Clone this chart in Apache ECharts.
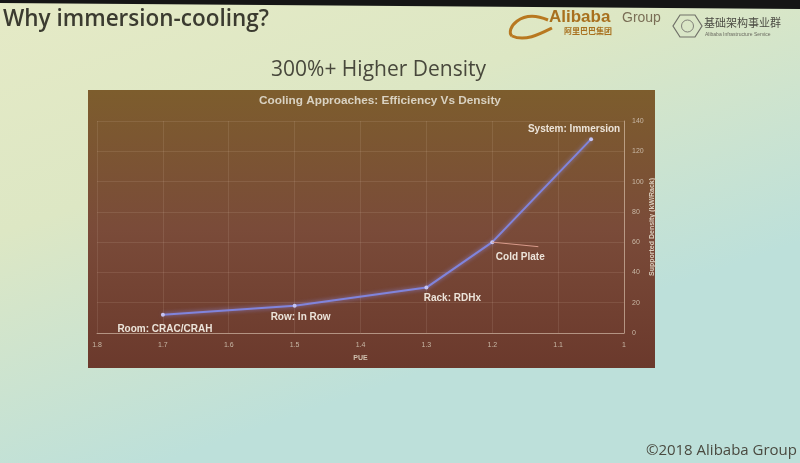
<!DOCTYPE html>
<html>
<head>
<meta charset="utf-8">
<script src="https://cdn.jsdelivr.net/npm/echarts@6/dist/echarts.min.js"></script>
<style>html,body{margin:0;padding:0;}#c{width:800px;height:463px;}</style>
</head>
<body>
<div id="c"></div>
<script>
// ---- data ----
const approaches = ['Room: CRAC/CRAH', 'Row: In Row', 'Rack: RDHx', 'Cold Plate', 'System: Immersion'];
const pueValues = [1.7, 1.5, 1.3, 1.2, 1.05];
const densityValues = [12, 18, 30, 60, 128];
const xTicks = [1.8, 1.7, 1.6, 1.5, 1.4, 1.3, 1.2, 1.1, 1];
const yTicks = [0, 20, 40, 60, 80, 100, 120, 140];

// ---- label placement (styling, not data) ----
const labelPlacement = [
  {position: 'bottom', offset: [2, 2]},
  {position: 'bottom', offset: [6, 0]},
  {position: 'bottom', offset: [26, -1]},
  {position: 'bottom', offset: [28, 3]},
  {position: 'top', offset: [-17, 2]}
];

const chart = echarts.init(document.getElementById('c'), null, {renderer: 'canvas'});

const seriesData = approaches.map((name, i) => ({
  name: name,
  value: [pueValues[i], densityValues[i]],
  label: Object.assign({show: true, formatter: name}, labelPlacement[i])
}));

const option = {
  animation: false,
  backgroundColor: 'transparent',
  graphic: [
    {type: 'rect', z: -10, shape: {x: 0, y: 0, width: 800, height: 463},
      style: {fill: new echarts.graphic.LinearGradient(0, 0, 0.2, 1, [
        {offset: 0, color: '#e5eac6'}, {offset: 0.45, color: '#dde7c4'}, {offset: 1, color: '#bde0da'}])}},
    {type: 'polygon', z: -9, shape: {points: [[0, 0], [800, 0], [800, 9], [0, 3]]}, style: {fill: '#151515'}},
    {type: 'rect', z: -8, shape: {x: 88, y: 90, width: 567, height: 278},
      style: {fill: new echarts.graphic.LinearGradient(0, 0, 0, 1, [
        {offset: 0, color: '#7d5d2d'}, {offset: 0.5, color: '#7a4b39'}, {offset: 1, color: '#6b392c'}])}},
    {type: 'text', left: 3, top: 8, style: {text: 'Why immersion-cooling?', font: '600 22.5px "Open Sans"', fill: '#3b3b30'}},
    {type: 'text', left: 271, top: 60, style: {text: '300%+ Higher Density', font: '21px "Open Sans"', fill: '#48483c'}},
    {type: 'text', left: 259, top: 95, style: {text: 'Cooling Approaches: Efficiency Vs Density', font: 'bold 11.8px "Liberation Sans"', fill: '#d9d2c2'}},
    // Alibaba logo
    {type: 'bezierCurve', shape: {x1: 548, y1: 20, x2: 512, y2: 36, cpx1: 520, cpy1: 8, cpx2: 505, cpy2: 30}, style: {stroke: '#b87820', lineWidth: 3, fill: null}},
    {type: 'bezierCurve', shape: {x1: 512, y1: 36, x2: 552, y2: 28, cpx1: 525, cpy1: 42, cpx2: 540, cpy2: 34}, style: {stroke: '#b87820', lineWidth: 3, fill: null}},
    {type: 'text', left: 549, top: 9, style: {text: 'Alibaba', font: 'bold 17px "Liberation Sans"', fill: '#a8701e'}},
    {type: 'text', left: 622, top: 11, style: {text: 'Group', font: '14px "Liberation Sans"', fill: '#7a6e56'}},
    {type: 'text', left: 564, top: 27, style: {text: '阿里巴巴集团', font: 'bold 8px "Noto Sans CJK SC"', fill: '#a8701e'}},
    {type: 'polygon', shape: {points: [[680, 15], [695, 15], [702, 26], [695, 37], [680, 37], [673, 26]]}, style: {fill: null, stroke: '#707068', lineWidth: 1.2}},
    {type: 'circle', shape: {cx: 687.5, cy: 26, r: 6}, style: {fill: null, stroke: '#808078', lineWidth: 1}},
    {type: 'text', left: 704, top: 17, style: {text: '基础架构事业群', font: '11px "Noto Sans CJK SC"', fill: '#4c4c44'}},
    {type: 'text', left: 705, top: 32, style: {text: 'Alibaba Infrastructure Service', font: '5px "Liberation Sans"', fill: '#6a6a60'}},
    {type: 'text', right: 3, top: 443, style: {text: '©2018 Alibaba Group', font: '15px "Open Sans"', fill: '#4a4a40'}}
  ],
  grid: {left: 97, right: 176, top: 121, bottom: 130, containLabel: false},
  xAxis: {
    type: 'value', min: 1, max: 1.8, interval: 0.1, inverse: true,
    name: 'PUE', nameLocation: 'middle', nameGap: 22, nameMoveOverlap: false,
    nameTextStyle: {color: '#d0c2b0', fontSize: 7, fontWeight: 'bold', fontFamily: 'Liberation Sans'},
    axisLine: {show: true, lineStyle: {color: 'rgba(225,205,185,0.55)', width: 1}},
    axisTick: {show: false},
    axisLabel: {color: '#c8b8a6', fontSize: 7, fontFamily: 'Liberation Sans', margin: 9,
      formatter: v => { const t = xTicks.find(k => Math.abs(k - v) < 1e-6); return t === undefined ? '' : String(t); }},
    splitLine: {show: true, lineStyle: {color: 'rgba(255,235,215,0.10)', width: 1}}
  },
  yAxis: {
    type: 'value', position: 'right', min: 0, max: 140, interval: 20,
    name: 'Supported Density (kW/Rack)', nameLocation: 'middle', nameGap: 25, nameRotate: 90, nameMoveOverlap: false,
    nameTextStyle: {color: '#dccfbe', fontSize: 7, fontWeight: 'bold', fontFamily: 'Liberation Sans'},
    axisLine: {show: true, lineStyle: {color: 'rgba(225,205,185,0.55)', width: 1}},
    axisTick: {show: false},
    axisLabel: {color: '#c8b8a6', fontSize: 7, fontFamily: 'Liberation Sans', margin: 8,
      formatter: v => (yTicks.indexOf(v) >= 0 ? String(v) : '')},
    splitLine: {show: true, lineStyle: {color: 'rgba(255,235,215,0.10)', width: 1}}
  },
  series: [{
    type: 'line',
    data: seriesData,
    symbol: 'circle', symbolSize: 4,
    itemStyle: {color: '#c4c4f4'},
    lineStyle: {color: '#8084dc', width: 2, shadowColor: 'rgba(150,150,255,0.7)', shadowBlur: 4},
    label: {color: '#ece4da', fontSize: 10, fontWeight: 'bold', fontFamily: 'Liberation Sans', distance: 5},
    markLine: {
      silent: true, symbol: 'none',
      lineStyle: {color: '#d89a8a', width: 1, type: 'solid'},
      label: {show: false},
      data: [[{coord: [pueValues[3], densityValues[3]]}, {coord: [pueValues[3] - 0.07, densityValues[3] - 3]}]]
    }
  }]
};
chart.setOption(option);
</script>
</body>
</html>
